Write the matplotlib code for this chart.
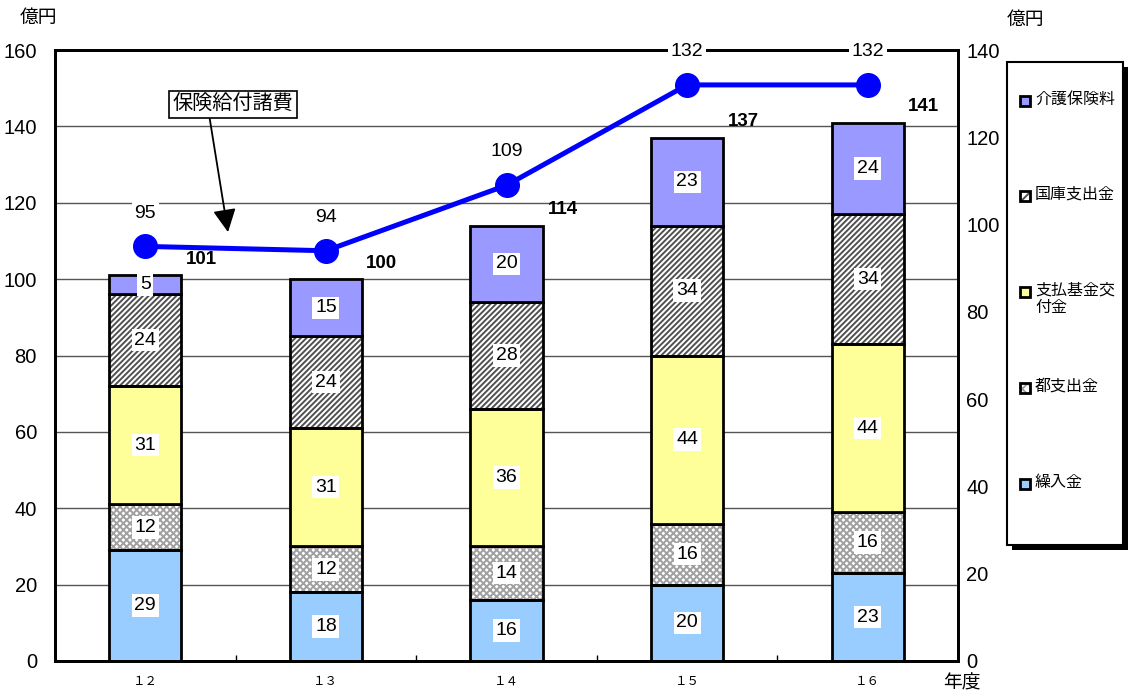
import numpy as np
import matplotlib
matplotlib.use("Agg")
import matplotlib.pyplot as plt
from matplotlib.patches import Rectangle

plt.rcParams['font.family'] = ['Liberation Sans', 'Noto Sans CJK JP']
plt.rcParams['hatch.linewidth'] = 1.4

# データ
years = ['１２', '１３', '１４', '１５', '１６']
kuriire = [29, 18, 16, 20, 23]        # 繰入金
to_shishutsu = [12, 12, 14, 16, 16]   # 都支出金
shiharai = [31, 31, 36, 44, 44]       # 支払基金交付金
kokko = [24, 24, 28, 34, 34]          # 国庫支出金
hokenryo = [5, 15, 20, 23, 24]        # 介護保険料
kyufu = [95, 94, 109, 132, 132]       # 保険給付諸費

series = [kuriire, to_shishutsu, shiharai, kokko, hokenryo]
names = ['繰入金', '都支出金', '支払基金交\n付金', '国庫支出金', '介護保険料']
colors = ['#99CCFF', 'white', '#FFFF99', 'white', '#9999FF']
hatches = [None, 'xxxxx', None, '//////', None]
hatch_cols = [None, '#a0a0a0', None, '#505050', None]

W, H = 1132, 697
fig = plt.figure(figsize=(W / 100, H / 100), dpi=100)
ax = fig.add_axes([55 / W, 36 / H, 903 / W, 611 / H])
x = np.arange(len(years))
w = 0.4

# グリッド
for yv in range(20, 160, 20):
    ax.axhline(yv, color='#555555', lw=1, zorder=0)

bottom = np.zeros(len(years))
for vals, col, h, hc in zip(series, colors, hatches, hatch_cols):
    vals = np.array(vals)
    if h:
        ax.bar(x, vals, w, bottom=bottom, color='white', edgecolor=hc,
               hatch=h, lw=0, zorder=2)
        ax.bar(x, vals, w, bottom=bottom, color='none', edgecolor='black', lw=2, zorder=3)
    else:
        ax.bar(x, vals, w, bottom=bottom, color=col, edgecolor='black', lw=2, zorder=3)
    for xi, b, v in zip(x, bottom, vals):
        ax.text(xi, b + v / 2, str(v), ha='center', va='center', fontsize=14, zorder=5,
                bbox=dict(facecolor='white', edgecolor='none', pad=2))
    bottom = bottom + vals

totals = bottom
for xi, t in zip(x, totals):
    ax.text(xi + 0.31, t + 4.2, str(int(t)), ha='center', va='center',
            fontsize=13.5, fontweight='bold', zorder=5)

ax.set_xlim(-0.5, 4.5)
ax.set_ylim(0, 160)
ax.set_yticks(range(0, 161, 20))
ax.set_xticks(x)
ax.set_xticklabels(years, fontsize=9, family=['Noto Sans CJK JP'])
ax.set_xticks([0.5, 1.5, 2.5, 3.5], minor=True)
ax.tick_params(axis='x', which='major', length=0, pad=10)
ax.tick_params(axis='x', which='minor', length=4, direction='in', width=1)
ax.tick_params(axis='y', length=0, pad=13, labelsize=14.5)
for s in ax.spines.values():
    s.set_linewidth(2)

ax2 = ax.twinx()
ax2.plot(x, kyufu, color='#0000FF', lw=3.6, marker='o', markersize=17, zorder=6)
for xi, v in zip(x, kyufu):
    ax2.annotate(str(v), (xi, v), textcoords='offset points', xytext=(0, 24),
                 ha='center', va='center', fontsize=14,
                 bbox=dict(facecolor='white', edgecolor='none', pad=2))
ax2.set_ylim(0, 140)
ax2.set_yticks(range(0, 141, 20))
ax2.tick_params(axis='y', length=0, pad=6, labelsize=14.5)
for s in ax2.spines.values():
    s.set_linewidth(2)

ax.annotate('保険給付諸費', xy=(0.458, 112.3), xytext=(0.486, 145.8),
            ha='center', va='center', fontsize=14.5, zorder=7,
            bbox=dict(boxstyle='square,pad=0.2', facecolor='white', edgecolor='black', lw=1.2),
            arrowprops=dict(arrowstyle='-|>', mutation_scale=35, color='black', lw=1.3,
                            relpos=(0.3, 0.0), shrinkA=0, shrinkB=0))

fig.text(38 / W, 1 - 18 / H, '億円', ha='center', va='center', fontsize=13.5)
fig.text(1025 / W, 1 - 20 / H, '億円', ha='center', va='center', fontsize=13.5)
fig.text(962 / W, 1 - 684 / H, '年度', ha='center', va='center', fontsize=13.5)

# 凡例 (手描き)
tf = fig.transFigure
fig.add_artist(Rectangle((1012 / W, 1 - 550 / H), 116 / W, 483 / H, transform=tf,
                         facecolor='black', edgecolor='black', lw=0))
fig.add_artist(Rectangle((1007 / W, 1 - 545 / H), 116 / W, 483 / H, transform=tf,
                         facecolor='white', edgecolor='black', lw=1.5))
leg_y = [101, 196, 292, 388, 484]
for yy, name, col, h, hc in zip(leg_y, names[::-1], colors[::-1], hatches[::-1], hatch_cols[::-1]):
    if h:
        fig.add_artist(Rectangle((1020 / W, 1 - (yy + 5) / H), 10 / W, 10 / H, transform=tf,
                                 facecolor='white', edgecolor=hc, hatch=h[:3], lw=0))
        fig.add_artist(Rectangle((1020 / W, 1 - (yy + 5) / H), 10 / W, 10 / H, transform=tf,
                                 facecolor='none', edgecolor='black', lw=2))
    else:
        fig.add_artist(Rectangle((1020 / W, 1 - (yy + 5) / H), 10 / W, 10 / H, transform=tf,
                                 facecolor=col, edgecolor='black', lw=2))
    fig.text(1035 / W, 1 - (yy - 9) / H, name, ha='left', va='top', fontsize=11.5,
             linespacing=1.15)

fig.savefig('out.png', dpi=100)
